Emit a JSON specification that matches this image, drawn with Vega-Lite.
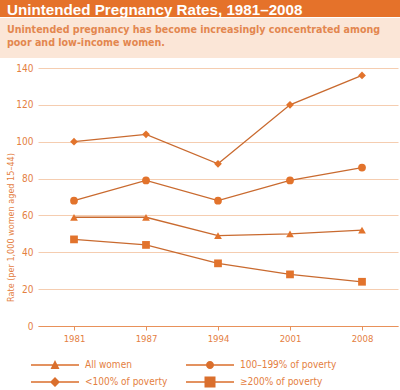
{
  "$schema": "https://vega.github.io/schema/vega-lite/v6.json",
  "padding": 0,
  "background": "white",
  "spacing": 0,
  "config": {"view": {"stroke": null}, "concat": {"spacing": 0}},
  "datasets": {
    "rates": [
      {"year": "1981", "series": "All women", "rate": 59},
      {"year": "1987", "series": "All women", "rate": 59},
      {"year": "1994", "series": "All women", "rate": 49},
      {"year": "2001", "series": "All women", "rate": 50},
      {"year": "2008", "series": "All women", "rate": 52},
      {"year": "1981", "series": "100–199% of poverty", "rate": 68},
      {"year": "1987", "series": "100–199% of poverty", "rate": 79},
      {"year": "1994", "series": "100–199% of poverty", "rate": 68},
      {"year": "2001", "series": "100–199% of poverty", "rate": 79},
      {"year": "2008", "series": "100–199% of poverty", "rate": 86},
      {"year": "1981", "series": "<100% of poverty", "rate": 100},
      {"year": "1987", "series": "<100% of poverty", "rate": 104},
      {"year": "1994", "series": "<100% of poverty", "rate": 88},
      {"year": "2001", "series": "<100% of poverty", "rate": 120},
      {"year": "2008", "series": "<100% of poverty", "rate": 136},
      {"year": "1981", "series": "≥200% of poverty", "rate": 47},
      {"year": "1987", "series": "≥200% of poverty", "rate": 44},
      {"year": "1994", "series": "≥200% of poverty", "rate": 34},
      {"year": "2001", "series": "≥200% of poverty", "rate": 28},
      {"year": "2008", "series": "≥200% of poverty", "rate": 24}
    ],
    "header": [{"pos": 0, "label": "Unintended Pregnancy Rates, 1981–2008"}],
    "sub": [{"pos": 0, "label": ["Unintended pregnancy has become increasingly concentrated among", "poor and low-income women."]}]
  },
  "vconcat": [
    {
      "width": 400,
      "height": 17,
      "view": {"fill": "#e5722a", "stroke": null},
      "data": {"name": "header"},
      "mark": {"type": "text", "align": "left", "baseline": "middle", "dx": 7, "dy": 1, "color": "white", "font": "Liberation Sans", "fontSize": 15.2, "fontWeight": "bold"},
      "encoding": {
        "x": {"field": "pos", "type": "quantitative", "scale": {"domain": [0, 1]}, "axis": null},
        "text": {"field": "label"}
      }
    },
    {
      "width": 400,
      "height": 40,
      "view": {"fill": "#fbe6d7", "stroke": null},
      "data": {"name": "sub"},
      "mark": {"type": "text", "align": "left", "baseline": "middle", "dx": 7, "dy": -8, "lineHeight": 13, "color": "#e3874f", "font": "DejaVu Sans Condensed", "fontSize": 10.6, "fontWeight": "bold"},
      "encoding": {
        "x": {"field": "pos", "type": "quantitative", "scale": {"domain": [0, 1]}, "axis": null},
        "text": {"field": "label"}
      }
    },
    {
      "width": 400,
      "height": 268,
      "data": {"name": "rates"},
      "encoding": {
        "x": {
          "field": "year", "type": "ordinal",
          "scale": {"type": "point", "range": [38, 398], "padding": 0.5},
          "axis": {
            "title": null, "labelAngle": 0, "grid": false,
            "domainColor": "#e8915a", "tickColor": "#e8915a", "tickSize": 4,
            "labelColor": "#e4803f", "labelFont": "DejaVu Sans Condensed", "labelFontSize": 9.5, "labelPadding": 3
          }
        },
        "y": {
          "field": "rate", "type": "quantitative",
          "scale": {"domain": [0, 145.43], "nice": false, "zero": true},
          "axis": {
            "values": [0, 20, 40, 60, 80, 100, 120, 140],
            "offset": -38, "domain": false, "ticks": false, "labelPadding": 5,
            "grid": true, "gridColor": "#f5cdb0", "gridWidth": 1,
            "labelColor": "#e4803f", "labelFont": "DejaVu Sans Condensed", "labelFontSize": 10,
            "title": "Rate (per 1,000 women aged 15–44)",
            "titleColor": "#e4803f", "titleFont": "DejaVu Sans Condensed", "titleFontSize": 9, "titleFontWeight": "normal",
            "titlePadding": 0, "titleY": 169
          }
        }
      },
      "layer": [
        {
          "mark": {"type": "line", "color": "#c96a2f", "strokeWidth": 1.3},
          "encoding": {"detail": {"field": "series"}}
        },
        {
          "mark": {"type": "point", "filled": true, "opacity": 1, "size": 60, "color": "#e2732c"},
          "encoding": {
            "shape": {
              "field": "series", "type": "nominal", "legend": null,
              "scale": {
                "domain": ["All women", "100–199% of poverty", "<100% of poverty", "≥200% of poverty"],
                "range": ["triangle-up", "circle", "diamond", "square"]
              }
            }
          }
        },
        {
          "transform": [{"filter": "datum.rate < 0"}],
          "mark": {"type": "point", "filled": true, "opacity": 1, "size": 100, "color": "#da6f2d"},
          "encoding": {
            "shape": {
              "field": "series", "type": "nominal",
              "scale": {
                "domain": ["All women", "<100% of poverty", "100–199% of poverty", "≥200% of poverty"],
                "range": [
                  "M-4.8,-0.14H4.8V0.14H-4.8ZM-0.9,0.8L0,-1L0.9,0.8Z",
                  "M-4.8,-0.14H4.8V0.14H-4.8ZM0,-1L1,0L0,1L-1,0Z",
                  "M-4.8,-0.14H4.8V0.14H-4.8ZM-0.8,0A0.8,0.8,0,1,1,0.8,0A0.8,0.8,0,1,1,-0.8,0Z",
                  "M-4.8,-0.14H4.8V0.14H-4.8ZM-1.1,-1.1H1.1V1.1H-1.1Z"
                ]
              },
              "legend": {
                "orient": "none", "legendX": 50, "legendY": 302, "padding": 0,
                "columns": 2, "columnPadding": 18, "rowPadding": 6, "title": null,
                "symbolSize": 100, "symbolStrokeWidth": 0,
                "labelFont": "DejaVu Sans Condensed", "labelFontSize": 10, "labelColor": "#e4803f", "labelOffset": 25
              }
            }
          }
        }
      ],
      "resolve": {"scale": {"shape": "independent"}}
    }
  ]
}
